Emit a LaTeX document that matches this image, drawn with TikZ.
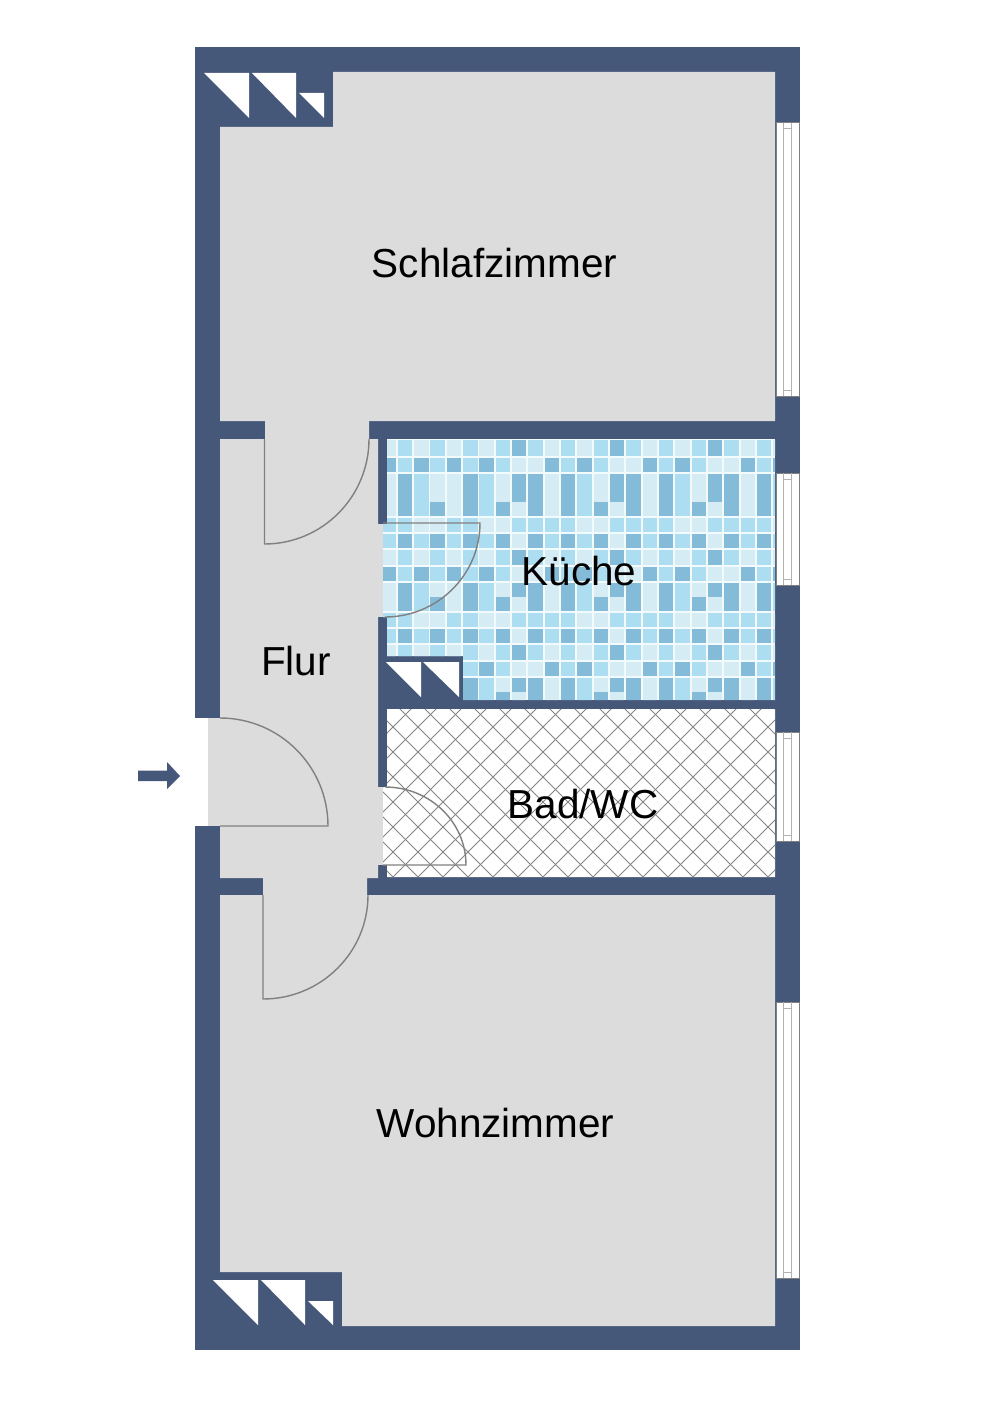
\documentclass[tikz,border=0pt]{standalone}
\usepackage{fontspec}
\setmainfont{Liberation Sans}
\definecolor{wallblue}{HTML}{46587A}
\definecolor{floorgrey}{HTML}{DCDCDC}
\definecolor{doorgrey}{HTML}{808080}
\definecolor{tilegrout}{HTML}{F2FAFC}
\definecolor{tilel}{HTML}{D5ECF5}
\definecolor{tilem}{HTML}{ADDDF0}
\definecolor{tiled}{HTML}{84BBD8}
\tikzset{
  wall/.style={fill=wallblue},
  floor/.style={fill=floorgrey},
  doorleaf/.style={draw=doorgrey,line width=1.4pt},
  vent/.style={fill=white},
  roomlabel/.style={font=\fontsize{40.5}{46}\selectfont,text=black,inner sep=0pt},
  windowframe/.style={draw=doorgrey,fill=white,line width=1pt},
  windowline/.style={draw=black!30,line width=1pt},
  hatchline/.style={draw=black!48,line width=0.9pt}
}
\def\tilerowA{l,m,l,m,l,m,l,m,d,m,l,m,l,m,d,m,l,m,l,m,d,m,l,m,l}
\def\tilerowB{d,m,d,m,d,m,d,m,l,l,d,m,d,m,l,l,d,m,d,m,l,l,d,m,d}
\def\tilerowC{l,d,m,l,l,d,m,l,d,d,l,d,m,l,d,d,l,d,m,l,d,d,l,d,m}
\def\tilerowD{l,d,m,d,l,d,m,d,l,d,l,d,m,d,l,d,l,d,m,d,l,d,l,d,m}
\def\tilerowE{m,m,l,l,m,m,l,l,m,m,m,m,l,l,m,m,m,m,l,l,m,m,m,m,l}
\def\tilerowF{m,d,m,d,m,d,m,d,l,d,m,d,m,d,l,d,m,d,m,d,l,d,m,d,m}
\begin{document}
\begin{tikzpicture}[x=1pt,y=-1pt]
\fill[white] (0,0) rectangle (1000,1415);
\useasboundingbox (0,0) rectangle (1000,1415);
\fill[wall] (195,47) rectangle (800,1350);
\fill[floor] (220,127) -- (333,127) -- (333,72) -- (775,72) -- (775,421) -- (220,421) -- cycle;
\fill[floor] (220,895) -- (775,895) -- (775,1326) -- (342,1326) -- (342,1272) -- (220,1272) -- cycle;
\fill[floor] (220,439) -- (265,439) -- (265,421) -- (369,421) -- (369,439) -- (378,439) -- (378,878)
  -- (367,878) -- (367,895) -- (263,895) -- (263,878) -- (220,878) -- cycle;
\fill[white] (195,718) rectangle (208,826);
\fill[floor] (208,718) rectangle (221,826);
\fill[floor] (377,524) rectangle (383,617);
\fill[floor] (377,787) rectangle (383,865);
\begin{scope}
\clip (387,439) -- (775,439) -- (775,700) -- (463,700) -- (463,656) -- (387,656) -- (387,617)
  -- (383,617) -- (383,524) -- (387,524) -- cycle;
\fill[tilegrout] (380,439) rectangle (775,700);
\foreach \ya/\yb/\rowname in {439/456.7/A,456.7/473/B,473/488.55/C,486.85/503.15/C,501.45/517.3/D,
  517.3/533.3/E,533.3/549.3/F,549.3/566/A,566/582.3/B,582.3/597.55/C,595.85/611.7/D,611.7/628.3/E,
  628.3/644.3/F,644.3/660.7/A,660.7/676.7/B,676.7/692.55/C,690.85/705/D}{
  \edef\tiles{\csname tilerow\rowname\endcsname}
  \foreach \shade [count=\i from 0] in \tiles{
    \fill[tile\shade] ({381.25+16.33*\i},{\ya+0.85}) rectangle ({395.85+16.33*\i},{\yb-0.85});
  }
}
\end{scope}
\begin{scope}
\clip (387,709) -- (775,709) -- (775,877) -- (387,877) -- (387,865) -- (383,865) -- (383,787) -- (387,787) -- cycle;
\fill[white] (380,705) rectangle (780,880);
\foreach \k in {-16,...,7}{
  \draw[hatchline] ({368+25*\k},477) -- ({1068+25*\k},1177);
}
\foreach \k in {-15,...,9}{
  \draw[hatchline] ({968+25*\k},477) -- ({268+25*\k},1177);
}
\end{scope}
\fill[vent] (204,73) -- (249,73) -- (249,118) -- cycle;
\fill[vent] (252,73) -- (296,73) -- (296,118) -- cycle;
\fill[vent] (299,93) -- (324,93) -- (324,118) -- cycle;
\fill[vent] (386,662) -- (421,662) -- (421,697) -- cycle;
\fill[vent] (423,662) -- (459,662) -- (459,697) -- cycle;
\fill[vent] (213,1280) -- (258,1280) -- (258,1325) -- cycle;
\fill[vent] (261,1280) -- (305,1280) -- (305,1325) -- cycle;
\fill[vent] (308,1301) -- (333,1301) -- (333,1325) -- cycle;
\foreach \ya/\yb in {123/396,473/585,732/841,1002/1278}{
  \draw[windowframe] (776,\ya) rectangle (799.5,\yb);
  \draw[windowline] (783,\ya) -- (783,\yb);
  \draw[windowline] (791,\ya) -- (791,\yb);
  \draw[windowline] (783,\ya+6) -- (791,\ya+6);
  \draw[windowline] (783,\yb-6) -- (791,\yb-6);
}
\draw[doorleaf] (264.5,439) -- (264.5,544) arc[start angle=90,end angle=0,x radius=104.5,y radius=105];
\draw[doorleaf] (263,895) -- (263,999) arc[start angle=90,end angle=0,x radius=105,y radius=104];
\draw[doorleaf] (220,826) -- (328,826) arc[start angle=0,end angle=-90,x radius=108,y radius=108];
\draw[doorleaf] (383,523) -- (480,523) arc[start angle=0,end angle=90,x radius=95,y radius=94];
\draw[doorleaf] (383,865) -- (466,865) arc[start angle=0,end angle=-90,x radius=81,y radius=78];
\fill[wall] (138,770.5) -- (167,770.5) -- (167,762) -- (180,776) -- (167,789) -- (167,781) -- (138,781) -- cycle;
\node[roomlabel] (schlafzimmer) at (494.5,263) {Schlafzimmer};
\node[roomlabel] (kueche) at (579,571) {Küche};
\node[roomlabel] (flur) at (296,661) {Flur};
\node[roomlabel] (badwc) at (583,804) {Bad/WC};
\node[roomlabel] (wohnzimmer) at (495.5,1123) {Wohnzimmer};
\end{tikzpicture}
\end{document}
